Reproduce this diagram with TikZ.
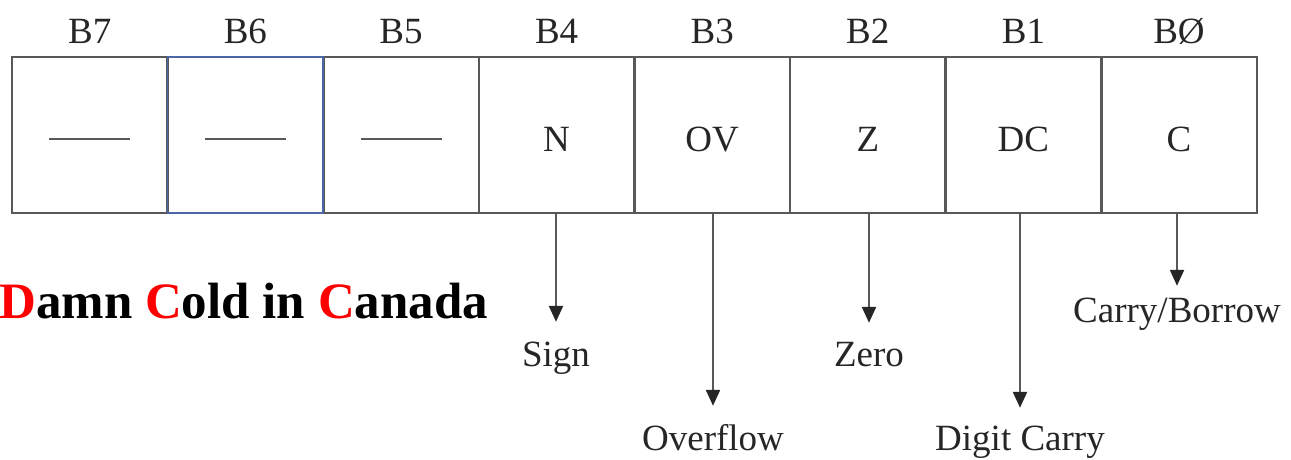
\documentclass[tikz,border=0pt]{standalone}
\usepackage{fontspec}
\setmainfont{Liberation Serif}
\usetikzlibrary{arrows.meta}
\definecolor{rulegray}{HTML}{585858}
\definecolor{ink}{HTML}{262626}
\definecolor{edgeblue}{HTML}{4A68A8}
\begin{document}
\begin{tikzpicture}[x=1pt,y=-1pt,
  cellbox/.style={draw=rulegray, line width=2.6pt, minimum width=155.6pt,
    minimum height=156pt, inner sep=0pt, outer sep=0pt,
    text height=32.5pt, text depth=0pt,
    font=\fontsize{37}{44}\selectfont, text=ink},
  bitlabel/.style={anchor=base, inner sep=0pt,
    font=\fontsize{37}{44}\selectfont, text=ink},
  flaglabel/.style={anchor=base, inner sep=0pt, text height=24.5pt,
    font=\fontsize{37}{44}\selectfont, text=ink},
  arr/.style={draw=rulegray, line width=2.2pt,
    -{Triangle[width=14pt,length=16pt,color=ink]}}
]
\useasboundingbox (0,0) rectangle (1291,459);

% unused bit marker
\newcommand{\nobit}{\textcolor{rulegray}{\rule[10.8pt]{81pt}{2.4pt}}}

% status register cells, B7 on the left
\node[cellbox] (c7) at (89.8,135)   {\nobit};
\node[cellbox] (c6) at (245.4,135)  {\nobit};
\node[cellbox] (c5) at (401.0,135)  {\nobit};
\node[cellbox] (c4) at (556.6,135)  {N};
\node[cellbox] (c3) at (712.2,135)  {OV};
\node[cellbox] (c2) at (867.8,135)  {Z};
\node[cellbox] (c1) at (1023.4,135) {DC};
\node[cellbox] (c0) at (1179.0,135) {C};
\draw[edgeblue, line width=1.6pt] (c6.south west) rectangle (c6.north east);

% bit numbers
\node[bitlabel] (b7) at (89.8,43)   {B7};
\node[bitlabel] (b6) at (245.4,43)  {B6};
\node[bitlabel] (b5) at (401.0,43)  {B5};
\node[bitlabel] (b4) at (556.6,43)  {B4};
\node[bitlabel] (b3) at (712.2,43)  {B3};
\node[bitlabel] (b2) at (867.8,43)  {B2};
\node[bitlabel] (b1) at (1023.4,43) {B1};
\node[bitlabel] (b0) at (1179.0,43) {BØ};

% flag meanings
\node[flaglabel] (sign)  at (556,366)  {Sign};
\node[flaglabel] (ovf)   at (713,450)  {Overflow};
\node[flaglabel] (zero)  at (869,366)  {Zero};
\node[flaglabel] (digc)  at (1020,450) {Digit Carry};
\node[flaglabel] (cbor)  at (1177,322) {Carry/Borrow};

\draw[arr, shorten >=19.5pt] (sign.north |- c4.south) -- (sign.north);
\draw[arr, shorten >=19.5pt] (ovf.north |- c3.south)  -- (ovf.north);
\draw[arr, shorten >=18.5pt] (zero.north |- c2.south) -- (zero.north);
\draw[arr, shorten >=17.5pt] (digc.north |- c1.south) -- (digc.north);
\draw[arr, shorten >=11.5pt] (cbor.north |- c0.south) -- (cbor.north);

% mnemonic for the flag order
\node[anchor=base west, inner sep=0pt, text=black,
      font=\bfseries\fontsize{51}{60}\selectfont] (mnem) at (-1,318)
  {\textcolor{red}{D}amn \textcolor{red}{C}old in \textcolor{red}{C}anada};
\end{tikzpicture}
\end{document}
